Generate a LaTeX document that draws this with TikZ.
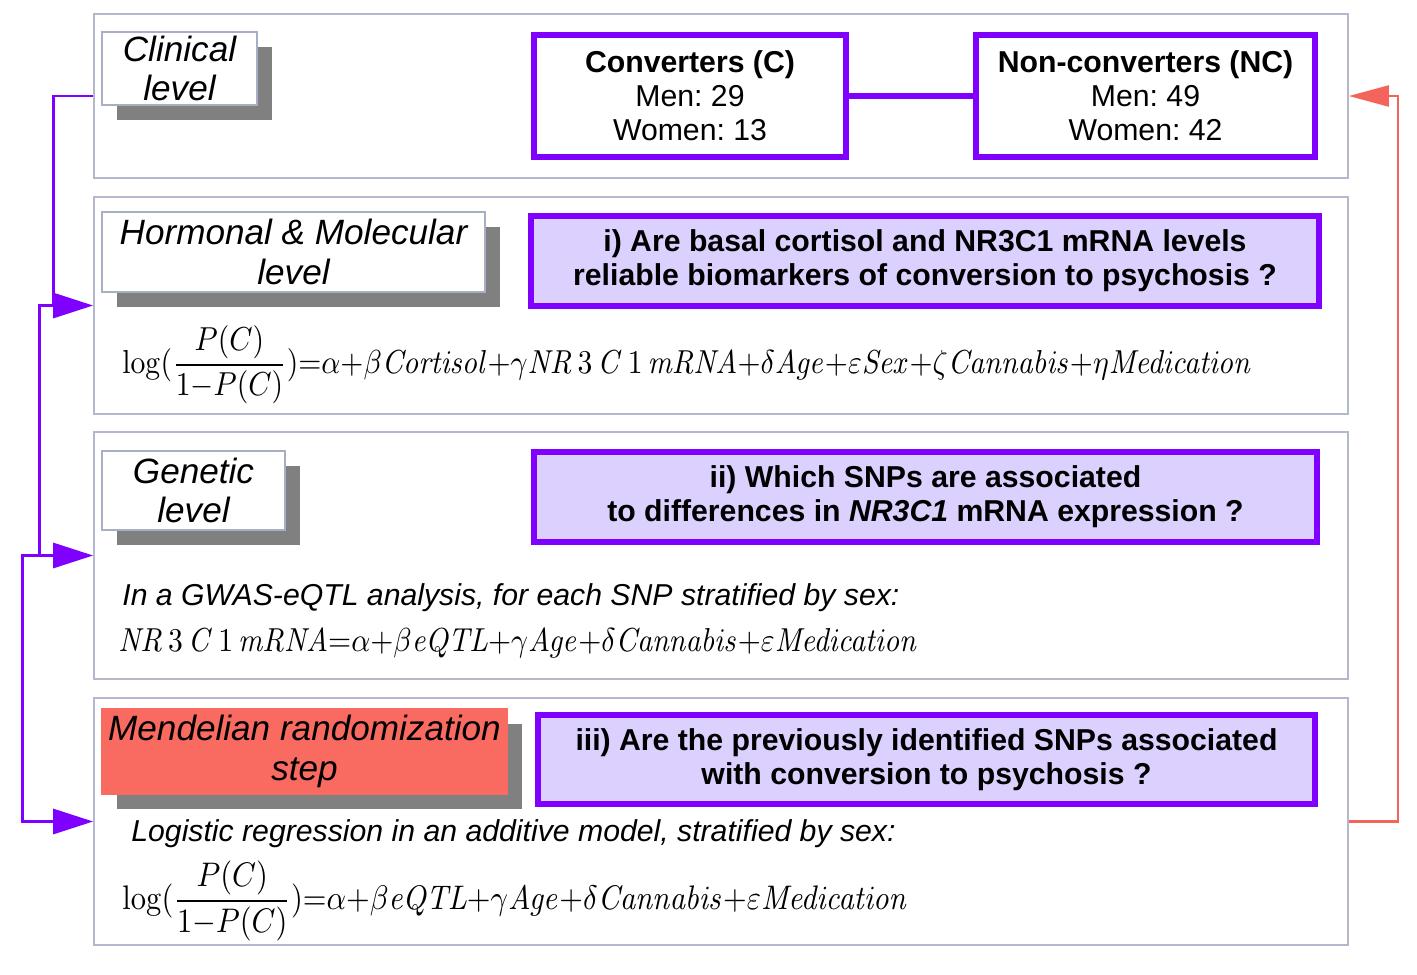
\documentclass[tikz,border=0pt]{standalone}
\usepackage{amsmath}
\usepackage[no-math]{fontspec}
\setmainfont{Liberation Sans}
\frenchspacing
\usetikzlibrary{shadows,arrows.meta,calc}
\definecolor{pur}{HTML}{7F00FF}
\definecolor{lav}{HTML}{DCD0FF}
\definecolor{panelc}{HTML}{B4B8CC}
\definecolor{labbord}{HTML}{A8AEC4}
\definecolor{shad}{HTML}{808080}
\definecolor{mred}{HTML}{F96A60}
\definecolor{rline}{HTML}{F5645A}
\newcommand\labfont{\fontsize{20}{22.6}\selectfont\itshape}
\newcommand\boxfont{\fontsize{17.2}{19.4}\selectfont}
\newcommand\bodyfont{\fontsize{17.2}{19.4}\selectfont\itshape}
\newcommand\pl{{+}}
\newcommand\eqs{{=}}
\newcommand\frc{\dfrac{P(C)}{1{-}P(C)}}
\newcommand\tallmath[1]{\scalebox{1}[1.12]{$#1$}}
\begin{document}
\begin{tikzpicture}[x=0.02cm,y=-0.02cm,
  panel/.style={draw=panelc, line width=1.1pt, fill=white, minimum width=25.08cm, inner sep=0pt},
  lab/.style={draw=labbord, line width=0.8pt, fill=white, inner sep=0pt, align=center, font=\labfont,
     drop shadow={shadow xshift=0.3cm, shadow yshift=-0.3cm, fill=shad, opacity=1}},
  qbox/.style={draw=pur, line width=3.4pt, fill=lav, inner sep=0pt, align=center, font=\boxfont\bfseries},
  cbox/.style={draw=pur, line width=3.4pt, fill=white, inner sep=0pt, align=center, font=\boxfont},
  body/.style={inner sep=0pt, anchor=west, font=\bodyfont},
  formula/.style={inner sep=0pt, anchor=west},
  parrow/.style={draw=pur, line width=1.7pt, -{Triangle[length=0.8cm, width=0.5cm]}},
  rarrow/.style={draw=rline, line width=1.2pt, -{Triangle[length=0.8cm, width=0.42cm]}}
]
\useasboundingbox (0,0) rectangle (1417,974);
\fill[white] (0,0) rectangle (1417,974);

% panels
\node[panel, minimum height=3.28cm] (panel1) at (721,96) {};
\node[panel, minimum height=4.34cm] (panel2) at (721,305.5) {};
\node[panel, minimum height=4.94cm] (panel3) at (721,555.5) {};
\node[panel, minimum height=4.94cm] (panel4) at (721,821.5) {};

% level labels
\node[lab, minimum width=3.1cm, minimum height=1.46cm] (clin) at (179.5,68.5) {Clinical\\level};
\node[lab, minimum width=7.66cm, minimum height=1.6cm] (horm) at (293.5,252) {Hormonal \& Molecular\\level};
\node[lab, minimum width=3.66cm, minimum height=1.58cm] (gen) at (193.5,490.5) {Genetic\\level};
\node[lab, fill=mred, draw=mred, minimum width=8.1cm, minimum height=1.7cm] (mend) at (304.5,751.5) {Mendelian randomization\\step};

% clinical boxes
\node[cbox, minimum width=6.24cm, minimum height=2.44cm] (conv) at (690,96) {\textbf{Converters (C)}\\Men: 29\\Women: 13};
\node[cbox, minimum width=6.78cm, minimum height=2.44cm] (nconv) at (1145.5,96) {\textbf{Non-converters (NC)}\\Men: 49\\Women: 42};
\draw[pur, line width=3pt] (conv) -- (nconv);

% questions
\node[qbox, minimum width=15.76cm, minimum height=1.8cm] (q1) at (925,261) {i) Are basal cortisol and NR3C1 mRNA levels\\reliable biomarkers of conversion to psychosis ?};
\node[qbox, minimum width=15.66cm, minimum height=1.8cm] (q2) at (925.5,497) {ii) Which SNPs are associated\\to differences in \textit{NR3C1} mRNA expression ?};
\node[qbox, minimum width=15.54cm, minimum height=1.78cm] (q3) at (926.5,759.5) {iii) Are the previously identified SNPs associated\\with conversion to psychosis ?};

% formulas and texts
\node[formula] (f1) at (122,365) {\resizebox{22.6cm}{!}{\tallmath{\log(\frc)\eqs\alpha\pl\beta\mathit{Cortisol}\pl\gamma\mathit{NR}\,3\,\mathit{C}\,1\,\mathit{mRNA}\pl\delta\mathit{Age}\pl\varepsilon\mathit{Sex}\pl\zeta\mathit{Cannabis}\pl\eta\mathit{Medication}}}};
\node[body] (t2) at (122,598) {In a GWAS-eQTL analysis, for each SNP stratified by sex:};
\node[formula] (f2) at (118,643) {\resizebox{16cm}{!}{\tallmath{\mathit{NR}\,3\,\mathit{C}\,1\,\mathit{mRNA}\eqs\alpha\pl\beta\mathit{eQTL}\pl\gamma\mathit{Age}\pl\delta\mathit{Cannabis}\pl\varepsilon\mathit{Medication}}}};
\node[body] (t3) at (131,834) {Logistic regression in an additive model, stratified by sex:};
\node[formula] (f3) at (122,901) {\resizebox{15.72cm}{!}{\tallmath{\log(\frc)\eqs\alpha\pl\beta\mathit{eQTL}\pl\gamma\mathit{Age}\pl\delta\mathit{Cannabis}\pl\varepsilon\mathit{Medication}}}};

% connectors
\draw[parrow] (panel1.west) -- ++(-40,0) |- (panel2.west);
\draw[parrow] ($(panel2.west)+(-40,0)$) -- ++(-14,0) |- (panel3.west);
\draw[parrow] ($(panel3.west)+(-54,0)$) -- ++(-17,0) |- (panel4.west);
\draw[rarrow] (panel4.east) -- ++(49,0) |- (panel1.east);
\end{tikzpicture}
\end{document}
